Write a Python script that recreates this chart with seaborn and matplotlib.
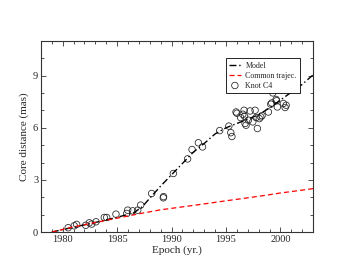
import numpy as np
import pandas as pd
import matplotlib
matplotlib.use('Agg')
import matplotlib.pyplot as plt
import seaborn as sns

# Knot C4 core distance measurements (epoch, mas)
c4_epoch = [1980.5, 1981.06, 1981.28, 1982.11, 1982.44, 1982.66, 1983.06, 1983.82,
            1984.04, 1984.89, 1985.88, 1985.97, 1986.43, 1986.89, 1987.16, 1988.17,
            1989.24, 1989.26, 1990.16, 1991.47, 1991.88, 1992.46, 1992.84, 1994.42,
            1995.26, 1995.44, 1995.54, 1995.92, 1996.0, 1996.34, 1996.54, 1996.66,
            1996.7, 1996.84, 1996.75, 1997.05, 1997.21, 1997.46, 1997.67, 1997.76,
            1997.88, 1998.06, 1998.19, 1998.31, 1998.89, 1999.11, 1999.2, 1999.3,
            1999.6, 1999.64, 1999.72, 2000.12, 2000.27, 2000.43, 2000.52, 2000.52]
c4_dist = [0.25, 0.36, 0.44, 0.39, 0.53, 0.46, 0.59, 0.84,
           0.84, 1.03, 1.07, 1.26, 1.22, 1.26, 1.55, 2.22,
           1.97, 2.04, 3.37, 4.21, 4.75, 5.14, 4.9, 5.84,
           6.1, 5.72, 5.5, 6.91, 6.84, 6.59, 6.78, 7.01,
           6.67, 6.15, 6.25, 6.44, 6.97, 6.34, 7.01, 6.59,
           5.96, 6.53, 6.63, 6.7, 6.91, 7.36, 7.43, 8.01,
           7.63, 7.56, 7.2, 8.35, 7.4, 7.17, 8.51, 7.3]

# model curve
model_epoch = [1979.0, 1981, 1983, 1985, 1986.5, 1987.3, 1988, 1989, 1990, 1991, 1992,
               1993, 1994, 1995, 1996, 1997, 1998, 1999, 2000, 2001, 2002, 2003]
model_dist = [0.0, 0.28, 0.55, 0.85, 1.1, 1.45, 1.95, 2.65, 3.3, 3.95, 4.6,
              5.1, 5.65, 6.0, 6.25, 6.5, 6.75, 7.15, 7.6, 8.05, 8.5, 9.05]

# common trajectory
common_epoch = [1979.0, 1981, 1983, 1985, 1987, 1989, 1991, 1993, 1995, 1997,
                1999, 2000, 2001, 2003]
common_dist = [0.0, 0.3, 0.55, 0.8, 1.05, 1.28, 1.45, 1.62, 1.8, 1.97,
               2.15, 2.25, 2.33, 2.5]

sns.set_theme(style='ticks')
plt.rcParams['font.family'] = ['Liberation Serif', 'DejaVu Serif']

fig = plt.figure(figsize=(3.53, 2.73), dpi=100)
ax = fig.add_axes([0.116, 0.15, 0.771, 0.70])

sns.lineplot(x=model_epoch, y=model_dist, ax=ax, color='black',
             dashes=False, linewidth=1.0, estimator=None, sort=False, label='Model')
ax.lines[-1].set_dashes([5, 2, 1, 2])
sns.lineplot(x=common_epoch, y=common_dist, ax=ax, color='#ff0000',
             linewidth=0.9, estimator=None, sort=False, label='Common trajec.')
ax.lines[-1].set_dashes([4, 2.5])
sns.scatterplot(x=c4_epoch, y=c4_dist, ax=ax, marker='o', s=22, facecolors='none',
                edgecolor='#222222', linewidth=0.55, label='Knot C4')

ax.set_xlim(1978, 2003)
ax.set_ylim(0, 11)
ax.set_xticks([1980, 1985, 1990, 1995, 2000])
ax.set_xticks(np.arange(1978, 2004, 1), minor=True)
ax.set_yticks([0, 3, 6, 9])
ax.set_yticks(np.arange(0, 12, 1), minor=True)
ax.tick_params(which='both', direction='in', top=True, right=True, labelsize=7.5,
               color='#333333', width=0.6, pad=2)
ax.tick_params(which='major', length=3.5)
ax.tick_params(which='minor', length=2)
for sp in ax.spines.values():
    sp.set_linewidth(0.8)
    sp.set_color('#333333')

ax.set_xlabel('Epoch (yr.)', fontsize=8, labelpad=1)
ax.set_ylabel('Core distance (mas)', fontsize=8, labelpad=3)

leg = ax.legend(loc='upper right', bbox_to_anchor=(0.966, 0.93), fontsize=5.8,
                frameon=True, fancybox=False, framealpha=1, edgecolor='black',
                handlelength=1.4, handletextpad=0.6, borderpad=0.4, labelspacing=0.25)
leg.get_frame().set_linewidth(0.6)

plt.savefig('out.png', dpi=100, facecolor='white')
plt.close()
